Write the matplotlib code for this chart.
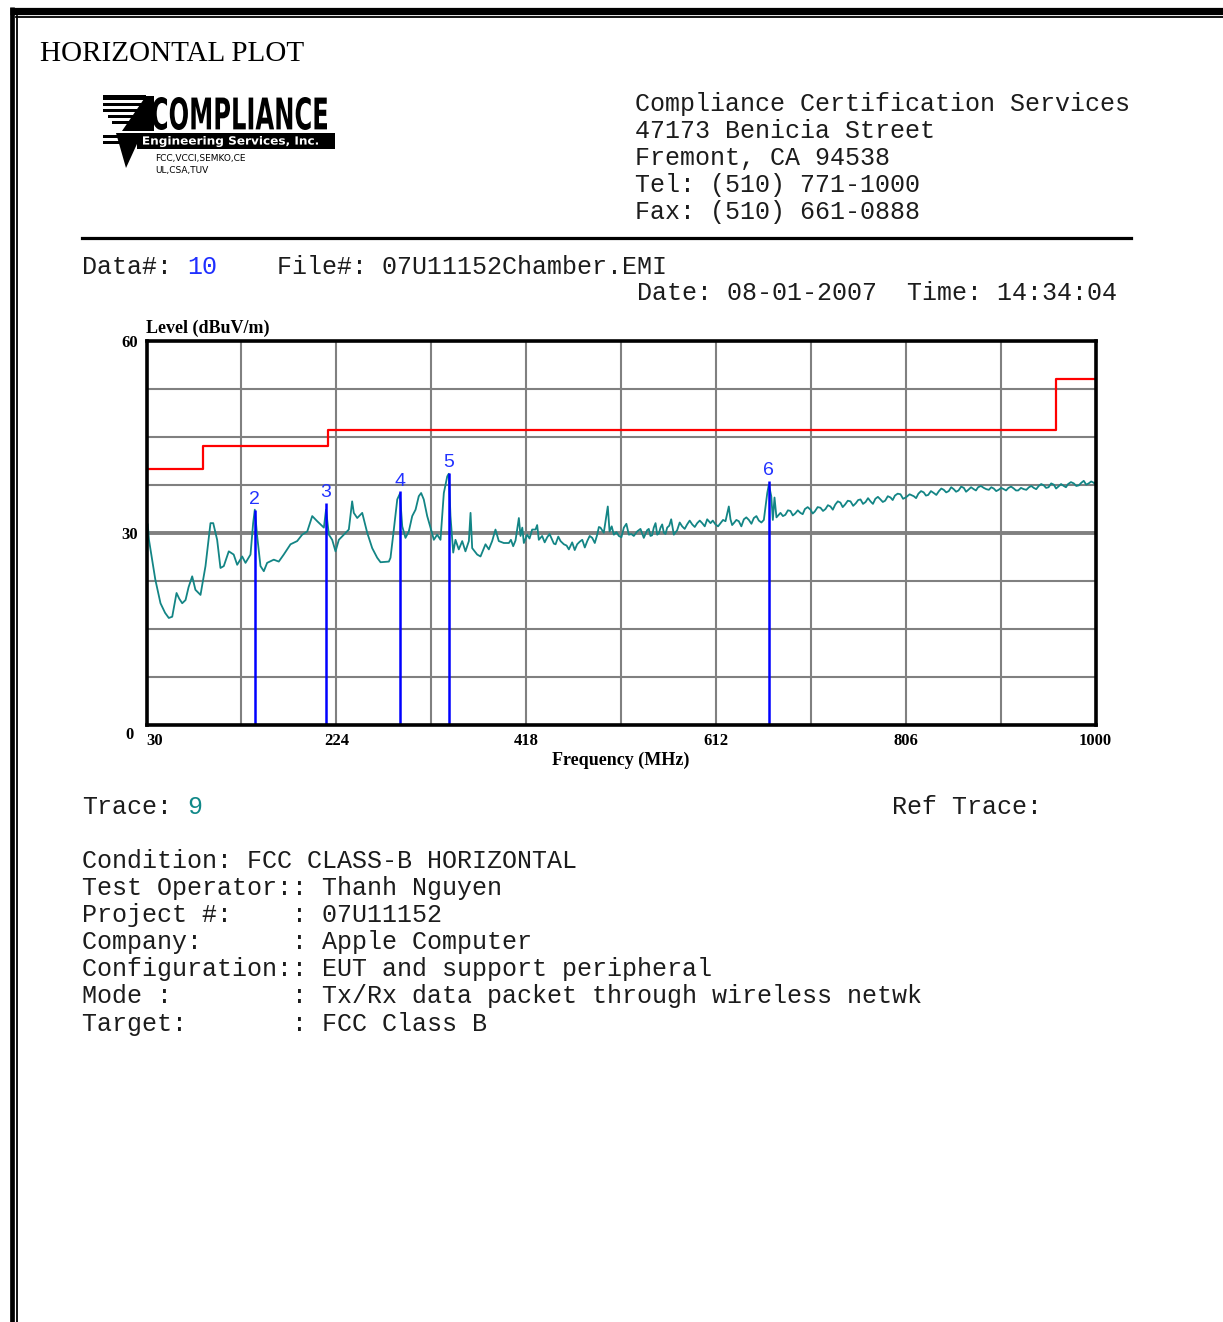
import matplotlib
matplotlib.use('Agg')
import matplotlib.pyplot as plt
from matplotlib.patches import Rectangle, Polygon, PathPatch
from matplotlib.textpath import TextPath
from matplotlib.font_manager import FontProperties
from matplotlib.transforms import Affine2D

# measured trace (MHz, dBuV/m)
trace_mhz = [31.3, 32.5, 39, 44.3, 49, 52.8, 56.3, 60.7, 63.5, 66.5, 69.9, 73, 76.7, 80, 85.2,
             90.3, 95.4, 98.2, 102.2, 105.6, 109, 114.1, 119.1, 122.7, 127.8, 131.2, 136.3, 139,
             140.7, 143.1, 146.5, 149.9, 153.3, 160.1, 165.2, 170.3, 177.2, 184, 189.1, 194.3,
             199.4, 204.5, 207.9, 211.3, 213.5, 216.4, 219.8, 223.2, 226.6, 231.7, 236.8, 240.2,
             241.9, 245.4, 250.5, 255.6, 260.7, 265.8, 269.2, 277.7, 279.4, 282.8, 286.3, 289,
             291.4, 294.7, 298.1, 301.6, 305, 308.3, 310.7, 313.4, 316.9, 320.3, 323.7, 327.1,
             330.5, 333.9, 337.4, 339, 340.7, 343.5, 345.8, 349.2, 352.7, 356, 359.5, 361.2,
             362.9, 368, 371.4, 376.5, 379.9, 383.3, 386.7, 390.1, 395.2, 400.4, 407.2, 410.6,
             412.3, 414.1, 415.7, 419.1, 424.2, 427.6, 431, 434.4, 439.6, 444.7, 448.1, 453.2,
             456.6, 461.7, 465.1, 470.2, 475.4, 480.5, 485.6, 490.7, 494, 497.4, 501.5, 503.3,
             507.7, 512.8, 517.9, 523, 528.1, 531.5, 538.3, 541.7, 545.1, 548.5, 552, 555.4,
             558.8, 562.2, 566.3, 569, 572.4, 577.5, 582.6, 587.8, 592.9, 598, 603.1, 606.5,
             611.6, 616.7, 621.8, 625.2, 626.9, 630.3, 635.4, 640.6, 645.7, 650.8, 655.9, 661,
             664.5, 666.1, 668.6, 670.2, 671.9, 673.9, 678, 683, 688.2, 693, 698.4, 703, 708.7,
             713, 718.9, 724, 729.1, 734, 739.3, 744, 749.6, 755, 759.8, 765, 770, 775, 780.2,
             785, 790.5, 795, 800.7, 806, 814.3, 819, 824.4, 829, 834.7, 840, 844.9, 850, 855.1,
             860, 865.4, 870, 875.6, 880, 885.8, 891, 896, 901, 906.3, 911, 916.5, 921, 926.7,
             932, 936.9, 942, 947.1, 952, 957.4, 962, 967.6, 972, 977.8, 983, 988, 993, 998.3,
             1000]
trace_dbuv = [31.3, 28.9, 22.7, 19.0, 17.5, 16.7, 16.9, 20.6, 19.7, 19.0, 19.5, 21.5, 23.2, 21.1, 20.3,
              24.8, 31.5, 31.5, 28.9, 24.5, 24.8, 27.1, 26.6, 25.0, 26.3, 25.3, 26.6, 31.5,
              33.6, 29.5, 24.8, 24.0, 25.3, 25.8, 25.5, 26.6, 28.2, 28.7, 29.7, 30.2,
              32.6, 31.8, 31.3, 30.8, 33.6, 29.7, 28.9, 27.1, 28.9, 29.7, 30.5, 34.9,
              33.1, 32.3, 33.1, 30.0, 27.6, 26.1, 25.4, 25.5, 26.1, 30.5, 35.2, 36.1,
              31.0, 29.2, 30.2, 32.6, 33.6, 35.7, 36.2, 35.2, 32.6, 30.8, 28.9, 29.7,
              28.9, 36.2, 38.8, 39.2, 32.6, 26.9, 28.9, 27.4, 28.7, 27.1, 28.7, 33.1,
              27.6, 26.6, 26.3, 28.2, 27.4, 28.7, 30.5, 28.7, 28.4, 28.4, 28.8, 32.3,
              29.5, 30.8, 28.4, 29.7, 30.5, 30.5, 28.9, 29.5, 29.3, 28.9, 28.2, 28.7,
              28.2, 27.4, 28.5, 28.2, 28.9, 28.7, 29.2, 29.7, 30.8, 30.0, 34.1, 30.2,
              29.7, 29.5, 30.8, 29.7, 29.5, 30.2, 29.2, 30.4, 29.5, 30.8, 29.7, 30.8,
              30.0, 30.8, 32.1, 29.7, 30.4, 31.0, 31.3, 31.3, 31.5, 31.5, 32.1, 31.5,
              31.3, 31.5, 31.8, 34.1, 32.1, 31.5, 31.8, 32.1, 32.0, 32.3, 31.9, 32.0,
              36.2, 37.5, 35.7, 32.0, 35.5, 32.4, 33.1, 32.8, 33.4, 33.0, 33.1, 33.7, 33.6,
              33.3, 33.9, 33.7, 34.1, 34.4, 34.7, 34.4, 34.9, 34.6, 35.2, 34.8, 34.9, 35.3, 35.2,
              35.0, 35.5, 35.8, 36.0, 35.5, 35.7, 36.1, 36.3, 35.9, 36.2, 36.5, 36.7, 36.5, 36.8,
              36.6, 37.0, 36.7, 36.8, 37.1, 37.0, 36.7, 36.9, 36.7, 36.8, 37.0, 36.9, 36.6, 36.8,
              37.1, 37.0, 37.3, 37.4, 37.1, 37.5, 37.2, 37.3, 37.6, 37.7, 37.4, 38.1, 37.7, 37.8,
              37.9]

# in-between samples showing the fine ripple of the noise floor
ripple_mhz = [402.5, 404.8, 421.5, 429.3, 437, 442, 446.4, 450.9, 459.4, 467.7, 472.8, 478,
              483, 488.2, 492.4, 505.5, 510.3, 515.4, 520.5, 525.6, 534.9, 543.4, 546.8,
              550.3, 553.7, 557.1, 560.5, 564.3, 575, 580.1, 585.2, 590.4, 595.5, 600.6,
              608.8, 614.2, 619.3, 628.6, 632.9, 638, 643.1, 648.3, 653.4, 658.5,
              680.5, 685.6, 690.6, 695.7, 700.7, 705.8, 710.9, 716, 721.5, 726.5, 731.5,
              736.6, 741.6, 746.8, 752.3, 757.4, 762.4, 767.5, 772.5, 777.6, 782.6, 787.7,
              792.7, 797.8, 803.3, 810, 816.6, 821.7, 826.7, 831.8, 837.3, 842.4, 847.4,
              852.5, 857.5, 862.7, 867.7, 872.8, 877.8, 882.9, 888.4, 893.5, 898.5, 903.6,
              908.6, 913.7, 918.7, 923.8, 929.3, 934.4, 939.4, 944.5, 949.5, 954.7, 959.7,
              964.8, 969.8, 974.9, 980.4, 985.5, 990.5, 995.6, 999.2]
ripple_dbuv = [28.9, 27.9, 29.1, 31.2, 28.5, 29.8, 28.3, 29.4, 28.0, 27.3, 28.6, 27.7,
               29.5, 28.4, 30.9, 31.0, 30.1, 29.3, 31.4, 29.8, 30.6, 30.6, 29.6,
               31.5, 29.9, 31.3, 29.8, 31.1, 31.6, 30.6, 31.9, 30.9, 31.9, 31.0,
               31.9, 31.0, 32.0, 31.2, 32.0, 31.0, 32.4, 31.4, 32.6, 31.6,
               32.6, 33.5, 32.7, 33.5, 32.9, 34.0, 33.0, 34.0, 33.4, 34.3, 33.6,
               34.9, 34.0, 35.0, 34.2, 35.1, 34.5, 35.4, 34.5, 35.6, 34.8, 35.7,
               35.1, 36.1, 35.3, 36.0, 35.4, 36.5, 35.8, 36.5, 35.9, 36.9, 36.3,
               37.1, 36.4, 37.2, 36.4, 37.1, 36.6, 37.3, 36.8, 37.1, 36.5, 37.0,
               36.6, 37.2, 36.6, 37.0, 36.7, 37.3, 36.8, 37.6, 37.0, 37.7, 36.9,
               37.6, 37.1, 37.9, 37.3, 37.8, 37.5, 38.0, 37.6]

# FCC class B limit, 3 m
limit_mhz = [30, 88, 216, 960, 1000]
limit_dbuv = [40, 43.5, 46, 54, 54]

# peak markers
marker_ids = ['2', '3', '4', '5', '6']
marker_mhz = [140.7, 213.5, 289, 339, 666.1]
marker_dbuv = [33.6, 34.7, 36.5, 39.4, 38.1]

freq_ticks = [30, 127, 224, 321, 418, 515, 612, 709, 806, 903, 1000]
freq_labels = ['30', '', '224', '', '418', '', '612', '', '806', '', '1000']
level_ticks = [0, 7.5, 15, 22.5, 30, 37.5, 45, 52.5, 60]
level_labels = ['', '', '', '', '30', '', '', '', '60']

header_lines = ['Compliance Certification Services', '47173 Benicia Street',
                'Fremont, CA 94538', 'Tel: (510) 771-1000', 'Fax: (510) 661-0888']
info_lines = ['Condition: FCC CLASS-B HORIZONTAL',
              'Test Operator:: Thanh Nguyen',
              'Project #:    : 07U11152',
              'Company:      : Apple Computer',
              'Configuration:: EUT and support peripheral',
              'Mode :        : Tx/Rx data packet through wireless netwk',
              'Target:       : FCC Class B']

# merge sweep and ripple samples in frequency order
sweep = sorted(zip(trace_mhz + ripple_mhz, trace_dbuv + ripple_dbuv))
sweep_mhz = [p[0] for p in sweep]
sweep_dbuv = [p[1] for p in sweep]

W, H = 1223, 1322
fig = plt.figure(figsize=(W / 100, H / 100), dpi=100)

# page layer in pixel units, y downwards
page = fig.add_axes([0, 0, 1, 1])
page.set_xlim(0, W)
page.set_ylim(H, 0)
page.axis('off')

mono = dict(family='Liberation Mono', fontsize=18, va='center', color='#1c1c1c')
col = 15.0  # px per character


def fit_text(s, x0, y0, x1, y1, color, weight='bold'):
    tp = TextPath((0, 0), s, size=100, prop=FontProperties(family='DejaVu Sans', weight=weight))
    bb = tp.get_extents()
    tr = (Affine2D().translate(-bb.x0, -bb.y0)
          .scale((x1 - x0) / bb.width, -(y1 - y0) / bb.height)
          .translate(x0, y1))
    page.add_patch(PathPatch(tr.transform_path(tp), fc=color, ec='none', lw=0))


# border
page.plot([10, W], [10.5, 10.5], color='black', lw=5.2, solid_capstyle='butt')
page.plot([16, W], [16.8, 16.8], color='black', lw=1.3)
page.plot([12, 12], [7, H], color='black', lw=3.4, solid_capstyle='butt')
page.plot([16.8, 16.8], [16, H], color='black', lw=1.3)

page.text(40, 54, 'HORIZONTAL PLOT', family='Liberation Serif', fontsize=21, va='center')

# logo
for y, x0, h in [(95, 103, 5), (103, 103, 3), (109, 103, 3), (115, 108, 2.5), (121, 112, 2.5)]:
    page.add_patch(Rectangle((x0, y), 146 - x0, h, fc='black', ec='none'))
page.add_patch(Polygon([[122, 131], [146, 96], [154, 96], [154, 131]], fc='black', ec='none'))
page.add_patch(Polygon([[116, 133], [142, 133], [126, 168]], fc='black', ec='none'))
fit_text('COMPLIANCE', 152, 97, 327, 130, 'black')
for y in [135, 141]:
    page.add_patch(Rectangle((103, y), 30, 3, fc='black', ec='none'))
page.add_patch(Rectangle((137, 133), 198, 16, fc='black', ec='none'))
fit_text('Engineering Services, Inc.', 143, 136, 318, 147, 'white')
page.text(155, 158, 'FCC,VCCI,SEMKO,CE', family='DejaVu Sans', fontsize=6.5, va='center')
page.text(155, 170, 'UL,CSA,TUV', family='DejaVu Sans', fontsize=6.5, va='center')

for i, s in enumerate(header_lines):
    page.text(635, 104 + 27 * i, s, **mono)
page.plot([82, 1131], [238, 238], color='black', lw=2.3)

page.text(82, 267, 'Data#:', **mono)
page.text(82 + 7 * col, 267, '10', **dict(mono, color='#1f2fff'))
page.text(82 + 13 * col, 267, 'File#: 07U11152Chamber.EMI', **mono)
page.text(82 + 37 * col, 293, 'Date: 08-01-2007  Time: 14:34:04', **mono)

page.text(82, 807, 'Trace:', **mono)
page.text(82 + 7 * col, 807, '9', **dict(mono, color='#108888'))
page.text(82 + 54 * col, 807, 'Ref Trace:', **mono)
for i, s in enumerate(info_lines):
    page.text(82, 861 + 27.1 * i, s, **mono)

# chart
ax = fig.add_axes([146.5 / W, 1 - 725 / H, 949 / W, 384.5 / H])
ax.set_xlim(30, 1000)
ax.set_ylim(0, 60)
ax.set_xticks(freq_ticks)
ax.set_xticklabels(freq_labels)
ax.set_yticks(level_ticks)
ax.set_yticklabels(level_labels)
ax.tick_params(length=0, labelsize=12, pad=6)
for lab in ax.get_xticklabels() + ax.get_yticklabels():
    lab.set_family('Liberation Serif')
    lab.set_weight('bold')
ax.get_xticklabels()[0].set_ha('left')
ax.grid(True, color='#808080', lw=1.5)
ax.axhline(30, color='#6a6a6a', lw=2.6, zorder=1)
for sp in ax.spines.values():
    sp.set_linewidth(2.6)
    sp.set_zorder(5)
ax.text(-0.014, -0.005, '0', transform=ax.transAxes, ha='right', va='top',
        family='Liberation Serif', weight='bold', fontsize=12)
ax.text(0, 1.01, 'Level (dBuV/m)', transform=ax.transAxes, ha='left', va='bottom',
        family='Liberation Serif', weight='bold', fontsize=13)
ax.set_xlabel('Frequency (MHz)', family='Liberation Serif', weight='bold', fontsize=13,
              labelpad=2)

ax.step(limit_mhz, limit_dbuv, where='post', color='#ff0000', lw=1.6, zorder=3)
ax.plot(sweep_mhz, sweep_dbuv, color='#138585', lw=1.3, zorder=3)
ax.vlines(marker_mhz, 0, marker_dbuv, color='#0000ff', lw=1.8, zorder=4)
for m, f, v in zip(marker_ids, marker_mhz, marker_dbuv):
    ax.annotate(m, (f, v), xytext=(0, 1), textcoords='offset points', ha='center',
                va='bottom', color='#2233ff', fontsize=14, family='Liberation Sans')

fig.savefig('out.png', dpi=100)
